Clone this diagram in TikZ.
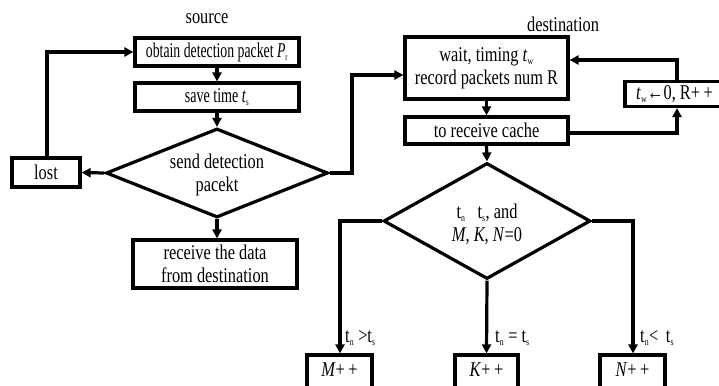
\documentclass[tikz,border=0pt]{standalone}
\usepackage{fontspec}
\setmainfont[FakeStretch=0.78]{Liberation Serif}
\usetikzlibrary{shapes.geometric,arrows.meta}
\tikzset{
  box/.style={draw, line width=3.2pt, inner sep=0pt, anchor=center},
  dia/.style={draw, diamond, line width=3.2pt, inner sep=0pt},
  arr/.style={line width=3.2pt, -{Triangle[length=9pt,width=9pt]}},
  txt/.style={inner sep=0pt, font=\fontsize{21}{23}\selectfont, align=center},
}
\newcommand{\tsub}[2]{#1\textsubscript{\fontsize{10}{10}\selectfont #2}}
\begin{document}
\begin{tikzpicture}[x=1pt,y=-1pt]
\useasboundingbox (0,0) rectangle (719,385);
\clip (0,0) rectangle (719,385);
\fill[white] (0,0) rectangle (719,385);
% labels
\node[txt] (srclab) at (207,19) {source};
\node[txt] (dstlab) at (563,24) {destination};
% source side
\node[box, minimum width=164pt, minimum height=28pt] (obtain) at (217,52) {};
\node[txt] at (obtain) {\scalebox{0.84}[1]{obtain detection packet \tsub{\textit{P}}{r}}};
\node[box, minimum width=164pt, minimum height=28pt] (save) at (217,97) {};
\node[txt] at (save) {\scalebox{0.86}[1]{save time \tsub{\textit{t}}{s}}};
\node[dia, minimum width=222pt, minimum height=89pt] (d1) at (217,173) {};
\node[txt] at (217,175) {send detection\\pacekt};
\node[box, minimum width=68pt, minimum height=29pt] (lost) at (46,172.5) {};
\node[txt] at (lost) {lost};
\node[box, minimum width=164pt, minimum height=48pt] (recv) at (215,264) {};
\node[txt] at (recv) {receive the data\\from destination};
% destination side
\node[box, minimum width=163pt, minimum height=62pt] (wait) at (486.5,68) {};
\node[txt] at (wait) {wait, timing \tsub{\textit{t}}{w}\\record packets num R};
\node[box, minimum width=163pt, minimum height=27pt] (cache) at (486.5,130.5) {};
\node[txt] at (cache) {to receive cache};
\node[box, minimum width=110pt, minimum height=25pt] (tw) at (680,94) {};
\node[txt, anchor=west] at (636,94) {\tsub{\textit{t}}{w}←0, R+\,+};
\node[dia, minimum width=207pt, minimum height=116pt] (d2) at (487,221) {};
\node[txt] at (487,224) {\tsub{t}{n}\hspace{12pt}\tsub{t}{s}, and\\\textit{M}, \textit{K}, \textit{N}=0};
\node[box, minimum width=65pt, minimum height=40pt] (mb) at (339.5,375) {};
\node[txt] at (339.5,370) {\textit{M}+\,+};
\node[box, minimum width=63pt, minimum height=40pt] (kb) at (486.5,375) {};
\node[txt] at (486.5,370) {\textit{K}+\,+};
\node[box, minimum width=65pt, minimum height=40pt] (nb) at (632.5,375) {};
\node[txt] at (632.5,370) {\textit{N}+\,+};
% branch labels
\node[txt, anchor=west] (lm) at (345,338) {\tsub{t}{n} >\tsub{t}{s}};
\node[txt, anchor=west] (lk) at (495,338) {\tsub{t}{n} = \tsub{t}{s}};
\node[txt, anchor=west] (ln) at (640,338) {\tsub{t}{n}<\, \tsub{t}{s}};
% connectors
\draw[arr] (obtain) -- (save);
\draw[arr] (save) -- (d1.north);
\draw[arr] (d1.west) -- (lost.east);
\draw[arr] (lost.north -| 47,0) -- (47,52) -- (obtain.west);
\draw[arr] (d1.south) -- (d1.south |- recv.north);
\draw[arr] (d1.east) -- (352,173) -- (352,75) -- (wait.west |- 0,75);
\draw[arr] (wait.south) -- (cache.north);
\draw[arr] (cache.east |- 0,133) -- (677,133) -- (tw.south -| 677,0);
\draw[arr] (tw.north -| 677,0) -- (677,60) -- (wait.east |- 0,60);
\draw[arr] (cache.south) -- (d2.north);
\draw[arr] (d2.west) -- (340,221) -- (mb.north -| 340,0);
\draw[arr] (d2.south) -- (kb.north);
\draw[arr] (d2.east) -- (633,221) -- (nb.north -| 633,0);
\end{tikzpicture}
\end{document}
